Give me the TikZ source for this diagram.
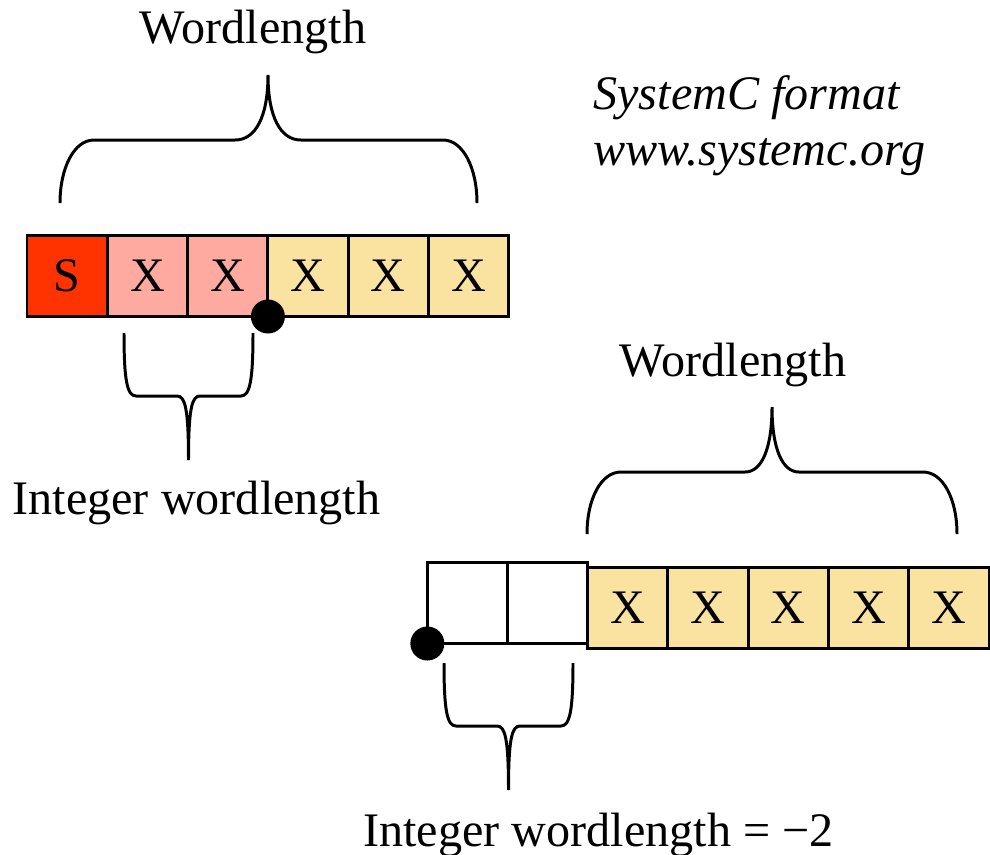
\documentclass[tikz,border=0pt]{standalone}
\usepackage{fontspec}
\setmainfont{Liberation Serif}
\usetikzlibrary{positioning}

\definecolor{signred}{RGB}{255,51,0}
\definecolor{intpink}{RGB}{255,170,160}
\definecolor{fracyellow}{RGB}{250,226,160}

\begin{document}
\begin{tikzpicture}[line width=0.85pt,
    bit/.style={rectangle, draw, minimum width=0.803cm, minimum height=0.81cm, inner sep=0pt, outer sep=0pt, font=\fontsize{13.7}{16}\selectfont},
    label/.style={font=\fontsize{13.7}{16}\selectfont, inner sep=0pt, anchor=base},
    brace/.style={line width=0.85pt},
    point/.style={circle, fill=black, minimum size=0.34cm, inner sep=0pt}]
    \useasboundingbox (0,0) rectangle (9.9,-8.54);

    % first word: sign, integer and fraction bits
    \node[bit, fill=signred] (s1) at (0.6715,-2.76) {S};
    \node[bit, fill=intpink, right=0pt of s1] (i1) {X};
    \node[bit, fill=intpink, right=0pt of i1] (i2) {X};
    \node[bit, fill=fracyellow, right=0pt of i2] (f1) {X};
    \node[bit, fill=fracyellow, right=0pt of f1] (f2) {X};
    \node[bit, fill=fracyellow, right=0pt of f2] (f3) {X};
    \node[point] (bp1) at (i2.south east) {};

    % second word: two empty positions before the fraction bits
    \node[bit] (e1) at (4.675,-6.03) {};
    \node[bit, right=0pt of e1] (e2) {};
    \node[bit, fill=fracyellow, anchor=north west] (g1) at (5.875,-5.67) {X};
    \node[bit, fill=fracyellow, right=0pt of g1] (g2) {X};
    \node[bit, fill=fracyellow, right=0pt of g2] (g3) {X};
    \node[bit, fill=fracyellow, right=0pt of g3] (g4) {X};
    \node[bit, fill=fracyellow, right=0pt of g4] (g5) {X};
    \node[point] (bp2) at (e1.south west) {};

    % braces
    \draw[brace] (0.60,-2.03) .. controls (0.60,-1.68) and (0.74,-1.40) .. (0.94,-1.40)
        -- (2.35,-1.40) .. controls (2.56,-1.40) and (2.68,-1.16) .. (2.68,-0.75)
        .. controls (2.68,-1.16) and (2.80,-1.40) .. (3.01,-1.40)
        -- (4.43,-1.40) .. controls (4.63,-1.40) and (4.77,-1.68) .. (4.77,-2.03);
    \draw[brace] (1.24,-3.33) .. controls (1.24,-3.80) and (1.27,-3.96) .. (1.36,-3.96)
        -- (1.77,-3.96) .. controls (1.85,-3.96) and (1.885,-4.08) .. (1.885,-4.60)
        .. controls (1.885,-4.08) and (1.92,-3.96) .. (2.00,-3.96)
        -- (2.41,-3.96) .. controls (2.50,-3.96) and (2.53,-3.80) .. (2.53,-3.33);
    \draw[brace] (5.87,-5.34) .. controls (5.87,-4.99) and (6.01,-4.72) .. (6.21,-4.72)
        -- (7.45,-4.72) .. controls (7.62,-4.72) and (7.72,-4.48) .. (7.72,-4.07)
        .. controls (7.72,-4.48) and (7.82,-4.72) .. (7.99,-4.72)
        -- (9.23,-4.72) .. controls (9.43,-4.72) and (9.57,-4.99) .. (9.57,-5.34);
    \draw[brace] (4.44,-6.63) .. controls (4.44,-7.10) and (4.47,-7.26) .. (4.56,-7.26)
        -- (4.97,-7.26) .. controls (5.05,-7.26) and (5.085,-7.38) .. (5.085,-7.90)
        .. controls (5.085,-7.38) and (5.12,-7.26) .. (5.20,-7.26)
        -- (5.61,-7.26) .. controls (5.70,-7.26) and (5.73,-7.10) .. (5.73,-6.63);

    % labels
    \node[label] (wl1) at (2.53,-0.43) {Wordlength};
    \node[label] (iwl1) at (1.965,-5.14) {Integer wordlength};
    \node[label] (wl2) at (7.33,-3.76) {Wordlength};
    \node[label] (iwl2) at (5.985,-8.46) {Integer wordlength = −2};
    \node[label, anchor=base west] (fmt) at (5.92,-1.09) {\itshape SystemC format};
    \node[label, anchor=base west] (url) at (5.92,-1.65) {\itshape www.systemc.org};
\end{tikzpicture}
\end{document}
